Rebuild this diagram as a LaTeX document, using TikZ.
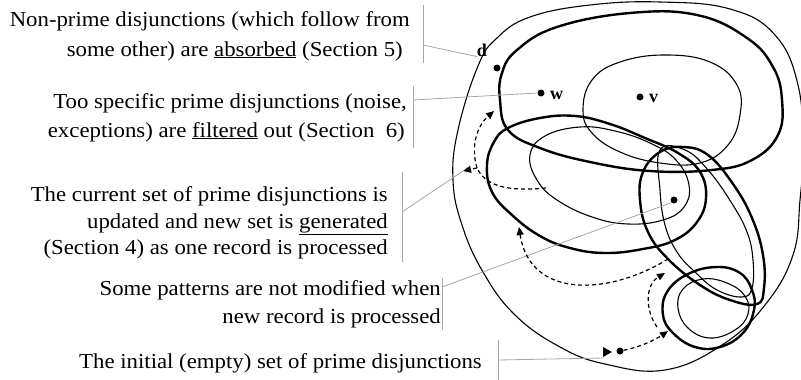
\documentclass[tikz,border=0pt]{standalone}
\usepackage{fontspec}
\setmainfont{Liberation Serif}
\newfontfamily\lblfont[FakeStretch=1.07]{Liberation Serif}
\usetikzlibrary{arrows.meta}
\begin{document}
\begin{tikzpicture}[x=1pt,y=-1pt,
  thinset/.style={line width=1.1pt},
  thickset/.style={line width=2.4pt},
  leader/.style={draw=black!35, line width=0.8pt},
  dline/.style={line width=1.2pt, dash pattern=on 4pt off 3pt},
  flow/.style={dline, -{Triangle[length=8pt,width=7pt]}},
  lbl/.style={font=\lblfont\fontsize{21.3}{24}\selectfont, inner sep=0pt, anchor=base east},
  pt/.style={circle, fill=black, inner sep=0pt, minimum size=7pt},
  ptlbl/.style={font=\fontsize{18}{20}\selectfont\bfseries, inner sep=0pt}
]
\useasboundingbox (0,0) rectangle (801,380);

% closed sets
\draw[thinset] plot[smooth cycle, tension=0.7] coordinates {(478,66) (497,38) (530,17) (590,5) (660,2) (730,9) (775,35) (798,85) (803,150) (800,200) (793,255) (765,305) (722,345) (665,370) (605,364) (560,347) (515,315) (483,272) (462,225) (453,180) (458,130)};
\draw[thickset] plot[smooth cycle, tension=0.7] coordinates {(508,130) (500,100) (502,73) (517,50) (557,27) (630,13) (697,15) (747,38) (773,67) (782,100) (778,135) (752,160) (712,170) (650,171) (590,162) (540,148)};
\draw[thinset] plot[smooth cycle, tension=0.7] coordinates {(583,110) (592,80) (620,62) (665,55) (710,62) (737,85) (740,115) (728,145) (700,163) (660,163) (620,152) (592,133)};
\draw[thickset] plot[smooth cycle, tension=0.7] coordinates {(487,165) (494,142) (508,128) (540,118) (575,116) (610,124) (645,138) (678,153) (700,172) (706,198) (697,222) (675,240) (643,249) (605,253) (570,248) (540,236) (512,215) (492,192)};
\draw[thinset] plot[smooth cycle, tension=0.7] coordinates {(530,155) (545,136) (580,127) (615,131) (650,143) (676,160) (689,185) (684,207) (663,220) (628,224) (592,217) (557,200) (537,180)};
\draw[thickset] plot[smooth cycle, tension=0.7] coordinates {(683,147) (708,155) (733,184) (752,218) (763,255) (764,288) (757,304) (730,300) (700,285) (668,259) (648,232) (640,200) (643,172) (660,152)};
\draw[thinset] plot[smooth cycle, tension=0.7] coordinates {(660,150) (685,150) (708,170) (731,202) (747,232) (753,260) (752,288) (742,297) (717,290) (695,272) (677,252) (665,225) (660,190)};
\draw[thickset] plot[smooth cycle, tension=0.7] coordinates {(717,267) (740,273) (752,290) (754,310) (743,333) (720,347) (695,347) (673,333) (663,315) (667,292) (688,274)};
\draw[thinset] plot[smooth cycle, tension=0.7] coordinates {(703,279) (727,283) (745,296) (748,314) (735,330) (710,338) (688,328) (678,308) (683,289)};

% points
\node[pt] (d) at (497,68) {};
\node[ptlbl] (dl) at (482,50) {d};
\node[pt] (w) at (541,93) {};
\node[ptlbl, anchor=west] (wl) at (550,95) {w};
\node[pt] (v) at (640,97) {};
\node[ptlbl, anchor=west] (vl) at (649,98) {v};
\node[pt] (u) at (674,200) {};
\node[pt] (p0) at (620,351) {};

% texts
\node[lbl] (t1a) at (410,26) {Non-prime disjunctions (which follow from};
\node[lbl] (t1b) at (403,56) {some other) are \underline{absorbed} (Section 5)};
\node[lbl] (t2a) at (407,108) {Too specific prime disjunctions (noise,};
\node[lbl] (t2b) at (405,137) {exceptions) are \underline{filtered} out (Section\ \ 6)};
\node[lbl] (t3a) at (388,201) {The current set of prime disjunctions is};
\node[lbl] (t3b) at (388,228) {updated and new set is \underline{generated}};
\node[lbl] (t3c) at (388,254) {(Section 4) as one record is processed};
\node[lbl] (t4a) at (441,295) {Some patterns are not modified when};
\node[lbl] (t4b) at (441,323) {new record is processed};
\node[lbl] (t5) at (482,368) {The initial (empty) set of prime disjunctions};

% leaders
\coordinate (b1t) at (423,5); \coordinate (b1b) at (423,63); \coordinate (b1m) at (423,45);
\coordinate (b2t) at (413,86); \coordinate (b2b) at (413,148); \coordinate (b2m) at (413,100);
\coordinate (b3t) at (402,172); \coordinate (b3b) at (402,262); \coordinate (b3m) at (402,212);
\coordinate (b4t) at (442,278); \coordinate (b4b) at (442,330); \coordinate (b4m) at (442,287);
\coordinate (b5t) at (498,340); \coordinate (b5b) at (498,380); \coordinate (b5m) at (498,360);
\draw[leader] (b1t) -- (b1b); \draw[leader] (b1m) -- (dl.south west);
\draw[leader] (b2t) -- (b2b); \draw[leader] (b2m) -- (w.west);
\draw[leader] (b3t) -- (b3b);
\draw[leader] (b4t) -- (b4b); \draw[leader] (b4m) -- (u.south west);
\draw[leader] (b5t) -- (b5b); \coordinate (tri) at (604,358); \draw[leader] (b5m) -- (tri);

% flows
\fill (603,347) -- (612,352) -- (603,357) -- cycle;
\coordinate (f1e) at (668,331);
\draw[flow] (p0) .. controls (640,347) and (655,340) .. (f1e);
\coordinate (f2s) at (657,327); \coordinate (f2e) at (665,273);
\draw[flow] (f2s) .. controls (645,310) and (645,285) .. (f2e);
\coordinate (f3s) at (668,259); \coordinate (f3e) at (519,227);
\draw[flow] (f3s) .. controls (610,295) and (530,300) .. (f3e);
\coordinate (f4s) at (546,188); \coordinate (f4m) at (477,168);
\coordinate (f4a) at (463,171); \coordinate (f4b) at (494,111);
\draw[dline] (f4s) .. controls (505,192) and (485,185) .. (f4m);
\draw[flow] (f4m) -- (f4a);
\draw[flow] (f4m) .. controls (470,145) and (478,125) .. (f4b);
\draw[leader] (b3m) -- (f4a);
\end{tikzpicture}
\end{document}
